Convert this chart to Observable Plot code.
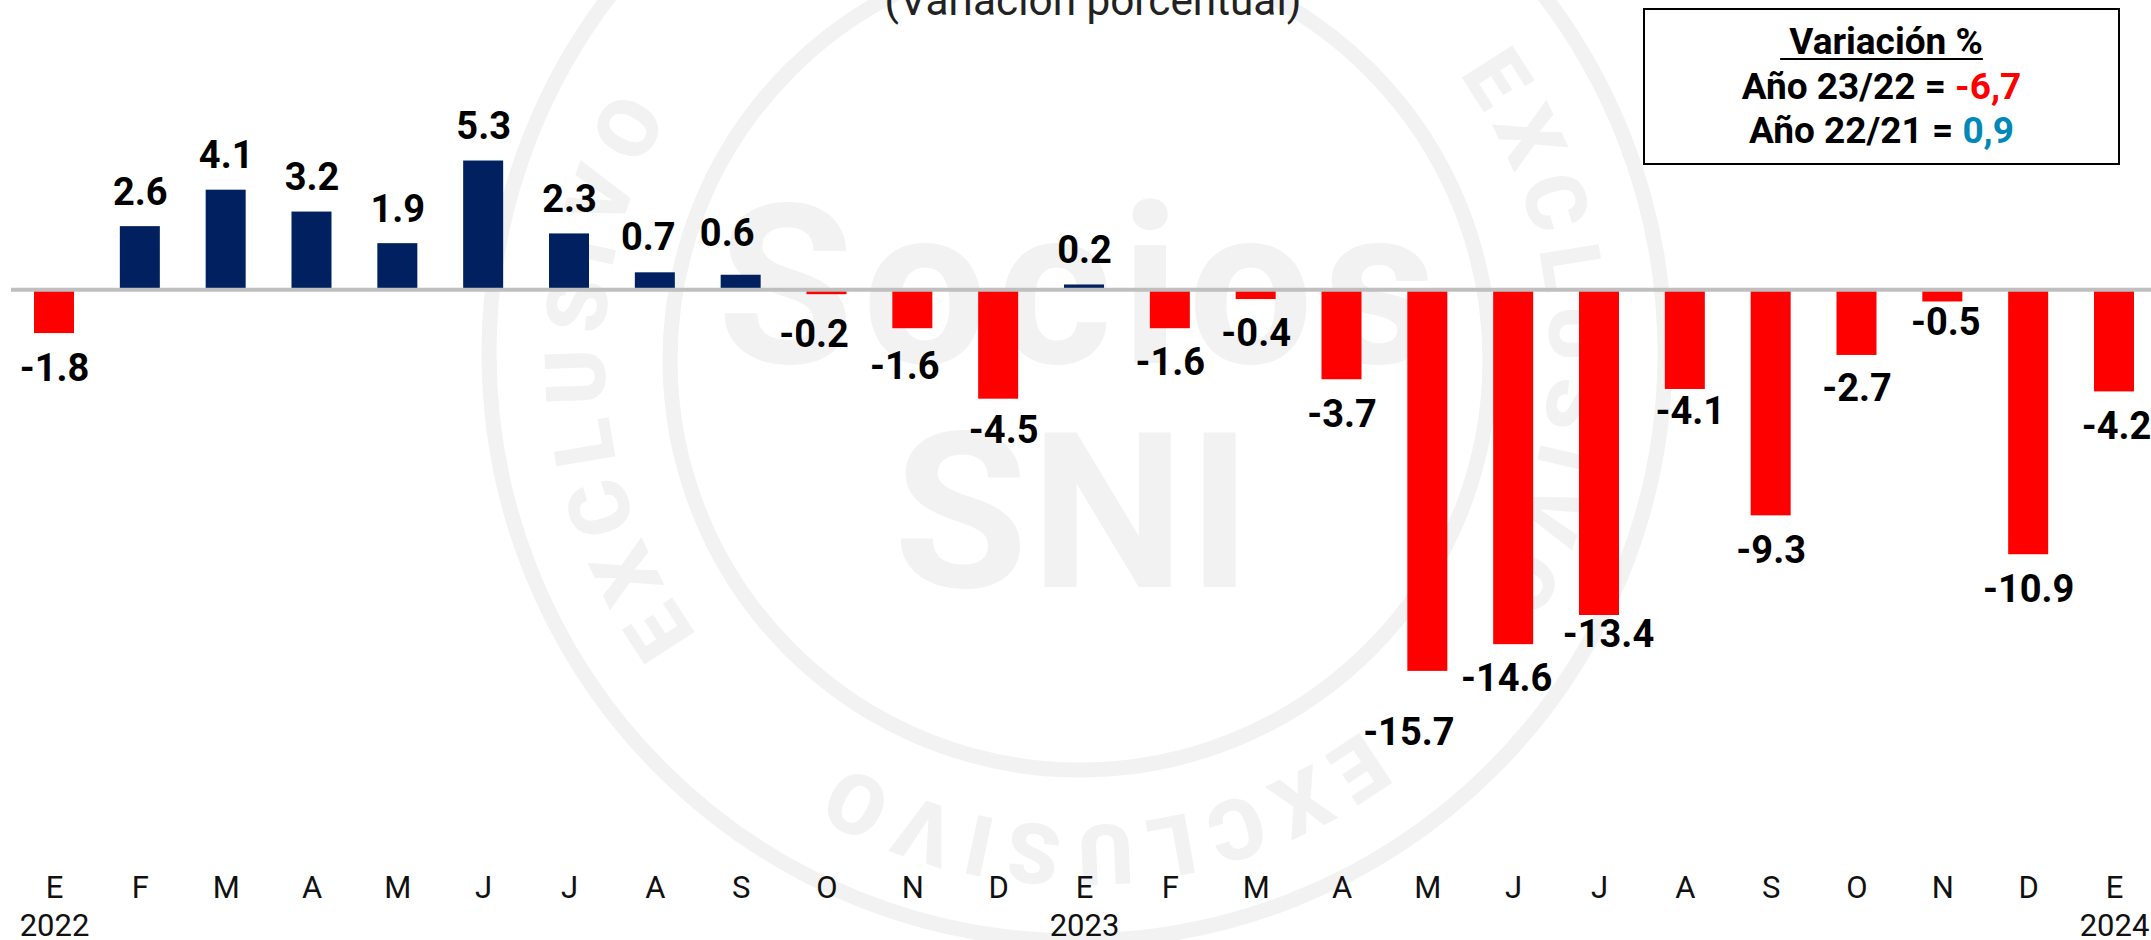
<!DOCTYPE html>
<html lang="es">
<head>
<meta charset="utf-8">
<script src="https://cdn.jsdelivr.net/npm/d3@7"></script>
<script src="https://cdn.jsdelivr.net/npm/@observablehq/plot@0.6"></script>
<style>
html,body{margin:0;padding:0;background:#fff;overflow:hidden}
#stage{position:relative;width:2151px;height:940px;overflow:hidden;font-family:Roboto,sans-serif}
#wm,#chart{position:absolute;left:0;top:0}
#title{position:absolute;left:0;width:2186px;top:-27px;text-align:center;font-size:42.3px;line-height:56px;color:#222}
#box{position:absolute;left:1643px;top:8px;width:473px;border:2px solid #000;background:#fff;text-align:center;font-weight:700;font-size:37px;color:#000;line-height:44.5px;padding-top:10px;box-sizing:content-box;height:143px}
#box u{text-decoration-thickness:2px;text-underline-offset:4px;white-space:pre}
</style>
</head>
<body>
<div id="stage">
<svg id="wm" width="2151" height="940" font-family="Roboto" font-weight="700" fill="#f2f2f2">
  <circle cx="1077" cy="353" r="588" fill="none" stroke="#f2f2f2" stroke-width="15"/>
  <circle cx="1080" cy="360" r="410" fill="none" stroke="#f2f2f2" stroke-width="15"/>
  <text x="1081" y="363" font-size="222" letter-spacing="8.6" text-anchor="middle">Socios</text>
  <text x="1074" y="587" font-size="218" letter-spacing="3" text-anchor="middle">SNI</text>
  <defs><path id="arc" d="M 677 101 A 473 473 0 0 1 1477 101"/></defs>
  <g font-size="84" font-weight="900" letter-spacing="13">
    <text transform="rotate(-92.5 1077 353)"><textPath href="#arc" startOffset="50%" text-anchor="middle">EXCLUSIVO</textPath></text>
    <text transform="rotate(88 1077 353)"><textPath href="#arc" startOffset="50%" text-anchor="middle">EXCLUSIVO</textPath></text>
    <text transform="rotate(177 1077 353)"><textPath href="#arc" startOffset="50%" text-anchor="middle">EXCLUSIVO</textPath></text>
  </g>
</svg>
<div id="chart"></div>
<div id="title">(Variación porcentual)</div>
<div id="box">
  <div><u> Variación %</u></div>
  <div>Año 23/22 = <span style="color:#ff0000">-6,7</span></div>
  <div>Año 22/21 = <span style="color:#0088b8">0,9</span></div>
</div>
</div>
<script>
const months = ["E","F","M","A","M","J","J","A","S","O","N","D","E","F","M","A","M","J","J","A","S","O","N","D","E"];
const years = {0:"2022",12:"2023",24:"2024"};
const values = [-1.8,2.6,4.1,3.2,1.9,5.3,2.3,0.7,0.6,-0.2,-1.6,-4.5,0.2,-1.6,-0.4,-3.7,-15.7,-14.6,-13.4,-4.1,-9.3,-2.7,-0.5,-10.9,-4.2];

const rows = values.map((v,i)=>({i,v}));
// hand placement of the labels that sit away from their usual spot
const nudge = {7:[-7,-35],8:[-14,-41],9:[-13,40],10:[-8,38],11:[5,32],16:[-19,61],17:[-7,34],18:[9,19],19:[5,22],21:[0,33],22:[3,21],24:[2,35],13:[0,34],14:[0,34]};
const labelStyle = {x:"i",y:"v",text:d=>d.v.toFixed(1),fontSize:38,fontWeight:700,fill:"#000",lineAnchor:"middle"};
const labelMarks = d3.groups(rows, d=>{const n=nudge[d.i]||[0,d.v<0?35:-34];return n.join(",");})
  .map(([k,data])=>{const [dx,dy]=k.split(",").map(Number);return Plot.text(data,{...labelStyle,dx,dy});});

const plot = Plot.plot({
  width:2151,height:940,
  marginLeft:34,marginRight:17,marginTop:0,marginBottom:90,
  style:{background:"transparent",fontFamily:"Roboto"},
  x:{type:"band",domain:d3.range(values.length),paddingInner:0.534,paddingOuter:0,round:false,label:null},
  y:{domain:[-23.07,11.905],axis:null,label:null},
  marks:[
    Plot.barY(rows,{x:"i",y:"v",fill:d=>d.v<0?"#ff0000":"#002060"}),
    Plot.ruleY([0],{stroke:"#bfbfbf",strokeWidth:4,insetLeft:-23,insetRight:-17}),
    ...labelMarks,
    Plot.axisX({tickSize:0,tickPadding:20,fontSize:31,lineHeight:1.24,fill:"#111",label:null,
      tickFormat:i=>years[i]?months[i]+"\n"+years[i]:months[i]})
  ]
});
document.getElementById("chart").append(plot);
</script>
</body>
</html>
